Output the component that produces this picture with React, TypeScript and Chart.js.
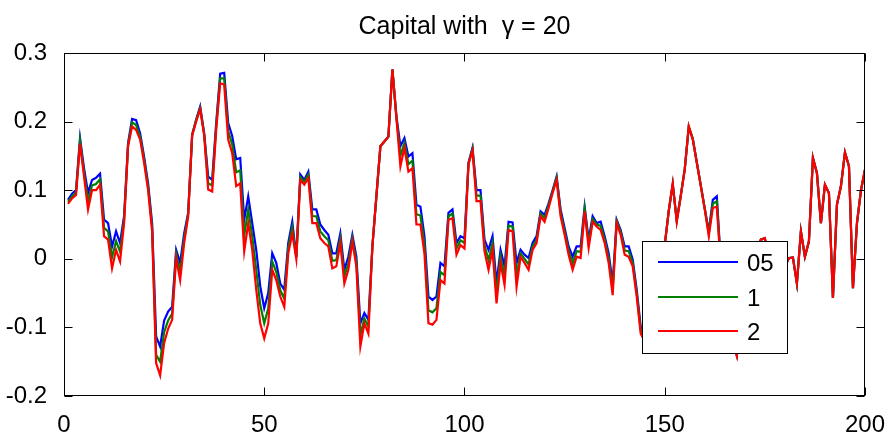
import React, { useEffect, useRef } from "react";
import { Chart, registerables } from "chart.js";

Chart.register(...registerables);

const titleText = "Capital with  \u03b3 = 20";
const seriesNames = ["05", "1", "2"];
const seriesColors = ["#0000ff", "#008000", "#ff0000"];
const xTickStep = 50;
const yTickStep = 0.1;

const xIndex = Array.from({ length: 200 }, (_, i) => i + 1);

const blue05 = [
  0.086, 0.095, 0.100, 0.176, 0.132, 0.096, 0.115, 0.118, 0.124, 0.057,
  0.052, 0.018, 0.040, 0.023, 0.062, 0.169, 0.204, 0.202, 0.183, 0.149,
  0.110, 0.052, -0.113, -0.128, -0.090, -0.077, -0.070, 0.013, -0.006, 0.037,
  0.067, 0.181, 0.203, 0.222, 0.183, 0.120, 0.115, 0.198, 0.270, 0.271,
  0.198, 0.179, 0.145, 0.147, 0.057, 0.091, 0.052, 0.013, -0.040, -0.072,
  -0.050, 0.008, -0.006, -0.036, -0.045, 0.023, 0.054, 0.003, 0.123, 0.115,
  0.127, 0.072, 0.072, 0.050, 0.042, 0.035, 0.008, 0.008, 0.037, -0.016,
  0.003, 0.035, 0.003, -0.094, -0.079, -0.089, 0.018, 0.091, 0.164, 0.171,
  0.178, 0.276, 0.208, 0.164, 0.176, 0.149, 0.154, 0.079, 0.076, 0.033,
  -0.055, -0.060, -0.055, -0.006, -0.011, 0.067, 0.072, 0.023, 0.033, 0.030,
  0.140, 0.162, 0.100, 0.100, 0.028, 0.013, 0.033, -0.036, 0.013, -0.011,
  0.054, 0.053, -0.006, 0.013, 0.006, 0.001, 0.023, 0.033, 0.069, 0.064,
  0.081, 0.100, 0.120, 0.072, 0.045, 0.018, 0.003, 0.018, 0.018, 0.076,
  0.028, 0.062, 0.052, 0.054, 0.033, 0.008, -0.036, 0.057, 0.042, 0.018,
  0.018, -0.001, -0.045, -0.099, -0.115, -0.090, -0.060, -0.030, -0.010, 0.020,
  0.070, 0.108, 0.056, 0.092, 0.131, 0.192, 0.175, 0.141, 0.107, 0.073,
  0.040, 0.086, 0.091, -0.005, -0.050, -0.090, -0.120, -0.140, -0.080, -0.040,
  -0.060, -0.020, 0.010, 0.028, 0.030, 0.000, -0.030, -0.050, -0.030, -0.010,
  0.001, 0.002, -0.036, 0.040, 0.003, 0.025, 0.147, 0.125, 0.052, 0.108,
  0.096, -0.057, 0.079, 0.106, 0.155, 0.135, -0.043, 0.052, 0.100, 0.130,
];

const green1 = [
  0.083, 0.091, 0.097, 0.172, 0.126, 0.084, 0.107, 0.109, 0.116, 0.045,
  0.040, 0.002, 0.026, 0.010, 0.057, 0.166, 0.199, 0.195, 0.178, 0.145,
  0.105, 0.046, -0.140, -0.150, -0.107, -0.090, -0.080, 0.007, -0.019, 0.030,
  0.065, 0.181, 0.202, 0.220, 0.182, 0.110, 0.107, 0.193, 0.263, 0.263,
  0.186, 0.167, 0.126, 0.129, 0.034, 0.072, 0.033, -0.016, -0.067, -0.094,
  -0.072, -0.004, -0.019, -0.046, -0.058, 0.016, 0.046, 0.002, 0.119, 0.112,
  0.123, 0.062, 0.062, 0.040, 0.033, 0.027, -0.003, -0.002, 0.030, -0.026,
  -0.007, 0.030, -0.004, -0.111, -0.087, -0.099, 0.018, 0.091, 0.164, 0.171,
  0.178, 0.276, 0.207, 0.150, 0.169, 0.138, 0.143, 0.065, 0.063, 0.021,
  -0.075, -0.078, -0.072, -0.019, -0.024, 0.062, 0.066, 0.015, 0.027, 0.023,
  0.139, 0.160, 0.092, 0.092, 0.020, -0.002, 0.023, -0.051, 0.004, -0.025,
  0.048, 0.047, -0.024, 0.008, 0.000, -0.008, 0.018, 0.028, 0.066, 0.059,
  0.078, 0.098, 0.118, 0.067, 0.040, 0.012, -0.007, 0.011, 0.010, 0.073,
  0.022, 0.058, 0.050, 0.048, 0.028, 0.001, -0.045, 0.055, 0.039, 0.012,
  0.011, -0.006, -0.050, -0.104, -0.118, -0.093, -0.063, -0.033, -0.011, 0.020,
  0.070, 0.109, 0.055, 0.092, 0.131, 0.193, 0.175, 0.141, 0.107, 0.073,
  0.037, 0.080, 0.084, -0.008, -0.051, -0.091, -0.121, -0.141, -0.081, -0.041,
  -0.061, -0.021, 0.009, 0.028, 0.030, -0.001, -0.031, -0.051, -0.031, -0.011,
  0.001, 0.002, -0.036, 0.040, 0.003, 0.025, 0.147, 0.125, 0.052, 0.108,
  0.096, -0.057, 0.079, 0.106, 0.155, 0.135, -0.043, 0.052, 0.100, 0.130,
];

const red2 = [
  0.080, 0.088, 0.093, 0.168, 0.120, 0.072, 0.100, 0.100, 0.108, 0.033,
  0.028, -0.014, 0.013, -0.004, 0.052, 0.164, 0.193, 0.188, 0.174, 0.140,
  0.100, 0.040, -0.152, -0.170, -0.123, -0.102, -0.089, 0.001, -0.031, 0.023,
  0.062, 0.180, 0.200, 0.218, 0.180, 0.101, 0.098, 0.188, 0.256, 0.254,
  0.174, 0.154, 0.106, 0.110, 0.011, 0.052, 0.013, -0.045, -0.094, -0.116,
  -0.094, -0.016, -0.031, -0.055, -0.070, 0.008, 0.037, 0.000, 0.115, 0.108,
  0.118, 0.052, 0.052, 0.030, 0.023, 0.018, -0.014, -0.011, 0.023, -0.036,
  -0.016, 0.025, -0.011, -0.128, -0.094, -0.109, 0.018, 0.091, 0.164, 0.171,
  0.178, 0.276, 0.205, 0.135, 0.162, 0.127, 0.132, 0.050, 0.050, 0.008,
  -0.094, -0.096, -0.089, -0.031, -0.036, 0.057, 0.059, 0.006, 0.020, 0.015,
  0.138, 0.158, 0.084, 0.084, 0.011, -0.016, 0.013, -0.065, -0.006, -0.038,
  0.042, 0.040, -0.041, 0.003, -0.006, -0.016, 0.013, 0.023, 0.062, 0.054,
  0.074, 0.096, 0.115, 0.062, 0.035, 0.006, -0.016, 0.003, 0.001, 0.069,
  0.016, 0.054, 0.047, 0.042, 0.023, -0.006, -0.053, 0.052, 0.035, 0.006,
  0.003, -0.011, -0.055, -0.109, -0.120, -0.095, -0.065, -0.035, -0.012, 0.020,
  0.070, 0.110, 0.054, 0.091, 0.130, 0.193, 0.174, 0.140, 0.106, 0.072,
  0.033, 0.074, 0.076, -0.010, -0.052, -0.092, -0.122, -0.142, -0.082, -0.042,
  -0.062, -0.022, 0.008, 0.028, 0.030, -0.002, -0.032, -0.052, -0.032, -0.012,
  0.001, 0.002, -0.036, 0.040, 0.003, 0.025, 0.147, 0.125, 0.052, 0.108,
  0.096, -0.057, 0.079, 0.106, 0.155, 0.135, -0.043, 0.052, 0.100, 0.130,
];

const FONT = "'Liberation Sans', Arial, Helvetica, sans-serif";

const framePlugin = {
  id: "matlabFrame",
  afterDatasetsDraw(chart: any) {
    const { ctx, chartArea: a, scales } = chart;
    ctx.save();
    ctx.strokeStyle = "#000";
    ctx.lineWidth = 1;
    const L = Math.round(a.left) + 0.5;
    const R = Math.round(a.right) - 0.5;
    const T = Math.round(a.top) + 0.5;
    const B = Math.round(a.bottom) - 0.5;
    ctx.strokeRect(L, T, R - L, B - T);
    const tl = 8;
    ctx.beginPath();
    scales.x.ticks.forEach((t: any) => {
      const px = Math.round(scales.x.getPixelForValue(t.value)) + 0.5;
      ctx.moveTo(px, B);
      ctx.lineTo(px, B - tl);
      ctx.moveTo(px, T);
      ctx.lineTo(px, T + tl);
    });
    scales.y.ticks.forEach((t: any) => {
      const py = Math.round(scales.y.getPixelForValue(t.value)) + 0.5;
      ctx.moveTo(L, py);
      ctx.lineTo(L + tl, py);
      ctx.moveTo(R, py);
      ctx.lineTo(R - tl, py);
    });
    ctx.stroke();

    // legend box
    const lx = 642.5, ly = 241.5, lw = 145, lh = 112;
    ctx.fillStyle = "#fff";
    ctx.fillRect(lx, ly, lw, lh);
    ctx.strokeRect(lx, ly, lw, lh);
    ctx.font = `24px ${FONT}`;
    ctx.textAlign = "left";
    ctx.textBaseline = "alphabetic";
    const rows = [262, 297, 331];
    seriesNames.forEach((name, i) => {
      ctx.strokeStyle = seriesColors[i];
      ctx.lineWidth = 2.2;
      ctx.beginPath();
      ctx.moveTo(658, rows[i]);
      ctx.lineTo(738, rows[i]);
      ctx.stroke();
      ctx.fillStyle = "#000";
      ctx.fillText(name, 747, rows[i] + 9);
    });
    ctx.restore();
  },
  afterDraw(chart: any) {
    const { ctx, chartArea: a } = chart;
    ctx.save();
    ctx.fillStyle = "#000";
    ctx.font = `25px ${FONT}`;
    ctx.textAlign = "center";
    ctx.textBaseline = "alphabetic";
    ctx.fillText(titleText, (a.left + a.right) / 2, 34);
    ctx.restore();
  },
};

export default function App() {
  const ref = useRef<HTMLCanvasElement | null>(null);
  useEffect(() => {
    if (!ref.current) return;
    const mk = (vals: number[]) => xIndex.map((x, i) => ({ x, y: vals[i] }));
    const chart = new Chart(ref.current, {
      type: "line",
      data: {
        datasets: [
          { label: seriesNames[0], data: mk(blue05), borderColor: seriesColors[0], order: 3 },
          { label: seriesNames[1], data: mk(green1), borderColor: seriesColors[1], order: 2 },
          { label: seriesNames[2], data: mk(red2), borderColor: seriesColors[2], order: 1 },
        ].map((d) => ({
          ...d,
          borderWidth: 2.2,
          pointRadius: 0,
          tension: 0,
          fill: false,
        })),
      },
      options: {
        responsive: false,
        animation: false,
        devicePixelRatio: 1,
        layout: { padding: { top: 53, right: 25.5, left: 0, bottom: 0 } },
        plugins: { legend: { display: false }, title: { display: false }, tooltip: { enabled: false } },
        scales: {
          x: {
            type: "linear",
            min: 0,
            max: 200,
            ticks: {
              stepSize: xTickStep,
              color: "#000",
              font: { size: 24, family: FONT },
              padding: 7,
              maxRotation: 0,
              autoSkip: false,
            },
            grid: { display: false },
            border: { display: false },
            afterFit: (s: any) => {
              s.height = 36;
            },
          },
          y: {
            min: -0.2,
            max: 0.3,
            ticks: {
              stepSize: yTickStep,
              color: "#000",
              font: { size: 24, family: FONT },
              padding: 9,
              callback: (v: any) => String(Math.round(Number(v) * 10) / 10),
            },
            grid: { display: false },
            border: { display: false },
            afterFit: (s: any) => {
              s.width = 64;
            },
          },
        },
      },
      plugins: [framePlugin],
    });
    return () => chart.destroy();
  }, []);
  return (
    <div style={{ position: "fixed", left: 0, top: 0, width: 892, height: 432, background: "#fff" }}>
      <canvas ref={ref} width={892} height={432} />
    </div>
  );
}
